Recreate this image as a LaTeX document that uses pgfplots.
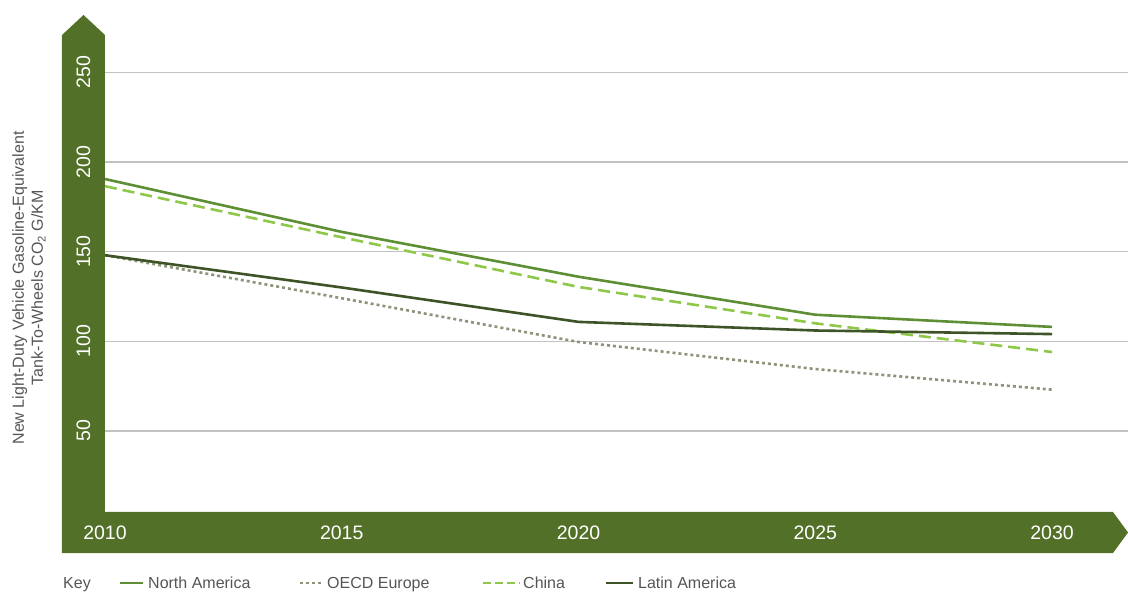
\documentclass[border=0pt]{standalone}
\usepackage{pgfplots}
\pgfplotsset{compat=1.18}
\usepackage{fontspec}
\setmainfont{Liberation Sans}
\definecolor{barg}{RGB}{83,112,41}
\definecolor{nacol}{RGB}{94,143,52}
\definecolor{chcol}{RGB}{143,199,72}
\definecolor{lacol}{RGB}{62,84,40}
\definecolor{eucol}{RGB}{140,148,122}
\definecolor{txt}{RGB}{85,85,85}
\begin{document}
\begin{tikzpicture}[x=1pt,y=1pt]
\path[use as bounding box] (-105,-80) rectangle (1023,512);
\fill[barg] (-43,-41) -- (-43,477) -- (-21.5,497) -- (0,477) -- (0,0) -- (1008,0) -- (1023,-20.5) -- (1008,-41) -- cycle;
\begin{axis}[
  at={(0,0)}, anchor=south west,
  scale only axis, width=1023pt, height=497pt,
  xmin=2010, xmax=2031.605, ymin=4.75, ymax=282,
  axis line style={draw=none}, tick style={draw=none},
  clip=false,
  xtick={2010,2015,2020,2025,2030},
  xticklabels={2010,2015,2020,2025,2030},
  ytick={50,100,150,200,250},
  yticklabels={50,100,150,200,250},
  ymajorgrids, grid style={color=black!24, line width=1.3pt},
  xticklabel style={font=\fontsize{19.5}{19.5}\selectfont, text=white, anchor=center, yshift=-20.5pt},
  yticklabel style={font=\fontsize{19.5}{19.5}\selectfont, text=white, anchor=center, xshift=-21.5pt, rotate=90},
]
\addplot[nacol, line width=2.6pt] coordinates {(2010,190.5) (2015,161) (2020,136) (2025,114.8) (2030,108)};
\addplot[eucol, line width=2.6pt, dash pattern=on 3pt off 3pt] coordinates {(2010,148) (2015,124) (2020,99.6) (2025,84.5) (2030,73)};
\addplot[chcol, line width=2.6pt, dash pattern=on 12pt off 6pt] coordinates {(2010,186.5) (2015,158) (2020,130.3) (2025,110) (2030,94)};
\addplot[lacol, line width=2.6pt] coordinates {(2010,148) (2015,130) (2020,110.8) (2025,106) (2030,104)};
\end{axis}
\node[rotate=90, align=center, text=txt, font=\fontsize{16}{19}\selectfont] at (-76,224) {New Light-Duty Vehicle Gasoline-Equivalent\\Tank-To-Wheels CO\textsubscript{2} G/KM};
\begin{scope}[font=\fontsize{16}{16}\selectfont, text=txt]
\node[anchor=base west, inner sep=0pt] at (-42,-76.7) {Key};
\draw[nacol, line width=2.8pt] (15,-71) -- (38,-71);
\node[anchor=base west, inner sep=0pt] at (43,-76.7) {North America};
\draw[eucol, line width=2.6pt, dash pattern=on 3pt off 3pt] (195,-71) -- (218,-71);
\node[anchor=base west, inner sep=0pt] at (222,-76.7) {OECD Europe};
\draw[chcol, line width=2.8pt, dash pattern=on 8pt off 4pt] (378,-71) -- (415,-71);
\node[anchor=base west, inner sep=0pt] at (418,-76.7) {China};
\draw[lacol, line width=2.8pt] (501,-71) -- (528,-71);
\node[anchor=base west, inner sep=0pt] at (533,-76.7) {Latin America};
\end{scope}
\end{tikzpicture}
\end{document}
